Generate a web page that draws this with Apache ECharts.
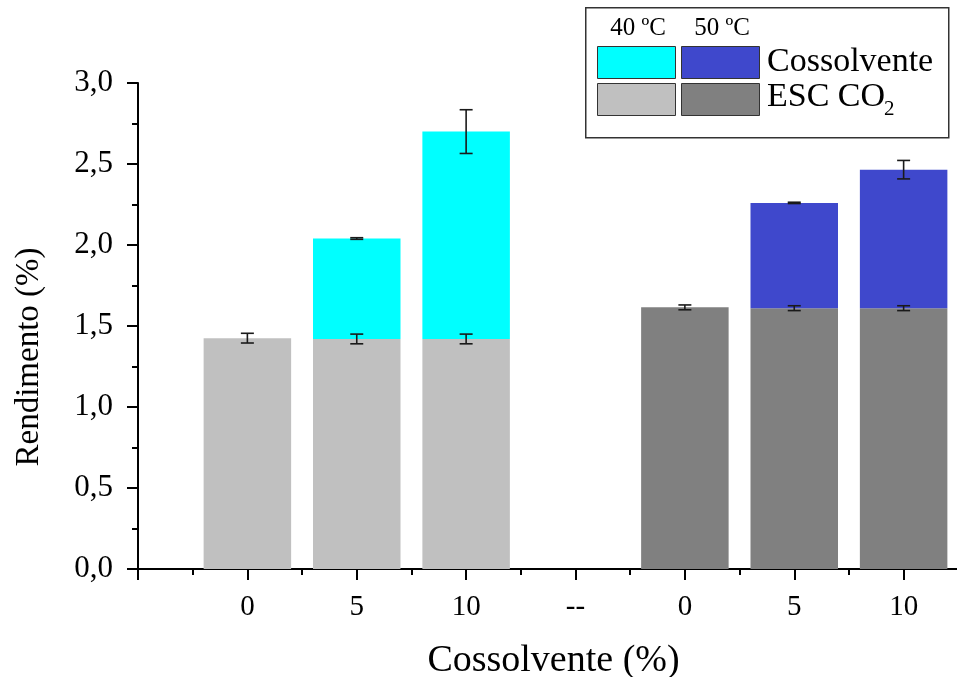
<!DOCTYPE html>
<html>
<head>
<meta charset="utf-8">
<script src="https://cdn.jsdelivr.net/npm/echarts@6/dist/echarts.min.js"></script>
<style>html,body{margin:0;padding:0;background:#fff}#c{width:957px;height:677px}</style>
</head>
<body>
<div id="c"></div>
<script>
// ---- data ----
const tickLabels = ['', '0', '5', '10', '--', '0', '5', '10'];
const xPos40 = [1, 2, 3];
const xPos50 = [5, 6, 7];
const esc40 = [1.425, 1.42, 1.42];
const esc40Err = [0.03, 0.03, 0.03];
const coss40 = [0, 0.62, 1.28];
const coss40Err = [0, 0.005, 0.135];
const esc50 = [1.615, 1.61, 1.61];
const esc50Err = [0.015, 0.015, 0.015];
const coss50 = [0, 0.65, 0.855];
const coss50Err = [0, 0.004, 0.057];

const FONT = 'Liberation Serif';
const BAR_W = 0.8;

function escData(xs, esc) { return xs.map((x, i) => [x, 0, esc[i]]); }
function cossData(xs, esc, coss) {
  return xs.map((x, i) => [x, esc[i], esc[i] + coss[i]]).filter((d, i) => coss[i] > 0);
}
function errData(xs, base, add, err) {
  return xs.map((x, i) => [x, base[i] + (add ? add[i] : 0), err[i]]).filter((d, i) => !add || add[i] > 0);
}

function barItem(params, api) {
  const x = api.value(0), y0 = api.value(1), y1 = api.value(2);
  const p0 = api.coord([x, y0]), p1 = api.coord([x, y1]);
  const w = api.size([BAR_W, 0])[0];
  return {
    type: 'rect',
    shape: { x: p0[0] - w / 2, y: p1[1], width: w, height: p0[1] - p1[1] },
    style: { fill: api.visual('color') }
  };
}
function errItem(params, api) {
  const x = api.value(0), c = api.value(1), e = api.value(2);
  const top = api.coord([x, c + e]), bot = api.coord([x, c - e]);
  const cap = 6.5;
  const st = { stroke: '#1a1a1a', lineWidth: 1.6 };
  return {
    type: 'group',
    children: [
      { type: 'line', shape: { x1: top[0], y1: top[1], x2: bot[0], y2: bot[1] }, style: st },
      { type: 'line', shape: { x1: top[0] - cap, y1: top[1], x2: top[0] + cap, y2: top[1] }, style: st },
      { type: 'line', shape: { x1: bot[0] - cap, y1: bot[1], x2: bot[0] + cap, y2: bot[1] }, style: st }
    ]
  };
}

const chart = echarts.init(document.getElementById('c'));
chart.setOption({
  backgroundColor: '#fff',
  animation: false,
  grid: { left: 138, width: 875, top: 83, height: 486, containLabel: false, outerBoundsMode: 'none' },
  xAxis: {
    type: 'value', min: 0, max: 8, interval: 1,
    name: 'Cossolvente (%)', nameLocation: 'middle', nameGap: 73,
    nameTextStyle: { fontFamily: FONT, fontSize: 38, color: '#000', padding: [0, 44, 0, 0] },
    axisLine: { show: true, onZero: false, lineStyle: { color: '#000', width: 2 } },
    axisTick: { show: true, inside: false, length: 11, lineStyle: { color: '#000', width: 2 } },
    minorTick: { show: true, splitNumber: 2, length: 6, lineStyle: { color: '#000', width: 2 } },
    splitLine: { show: false },
    axisLabel: {
      fontFamily: FONT, fontSize: 29, color: '#000', margin: 24,
      formatter: v => (Number.isInteger(v) && tickLabels[v] !== undefined) ? tickLabels[v] : ''
    }
  },
  yAxis: {
    type: 'value', min: 0, max: 3, interval: 0.5,
    name: 'Rendimento (%)', nameLocation: 'middle', nameGap: 92,
    nameTextStyle: { fontFamily: FONT, fontSize: 33, color: '#000', padding: [0, 62, 0, 0] },
    axisLine: { show: true, lineStyle: { color: '#000', width: 2 } },
    axisTick: { show: true, inside: false, length: 11, lineStyle: { color: '#000', width: 2 } },
    minorTick: { show: true, splitNumber: 2, length: 6, lineStyle: { color: '#000', width: 2 } },
    splitLine: { show: false },
    axisLabel: {
      fontFamily: FONT, fontSize: 31, color: '#000', margin: 25,
      formatter: v => v.toFixed(1).replace('.', ',')
    }
  },
  series: [
    { name: 'ESC CO2 40', type: 'custom', renderItem: barItem, itemStyle: { color: '#C0C0C0' },
      encode: { x: 0, y: [1, 2] }, data: escData(xPos40, esc40), z: 2 },
    { name: 'Cossolvente 40', type: 'custom', renderItem: barItem, itemStyle: { color: '#00FFFF' },
      encode: { x: 0, y: [1, 2] }, data: cossData(xPos40, esc40, coss40), z: 2 },
    { name: 'ESC CO2 50', type: 'custom', renderItem: barItem, itemStyle: { color: '#808080' },
      encode: { x: 0, y: [1, 2] }, data: escData(xPos50, esc50), z: 2 },
    { name: 'Cossolvente 50', type: 'custom', renderItem: barItem, itemStyle: { color: '#3F48CC' },
      encode: { x: 0, y: [1, 2] }, data: cossData(xPos50, esc50, coss50), z: 2 },
    { name: 'err esc40', type: 'custom', renderItem: errItem, encode: { x: 0, y: 1 },
      data: errData(xPos40, esc40, null, esc40Err), z: 5 },
    { name: 'err coss40', type: 'custom', renderItem: errItem, encode: { x: 0, y: 1 },
      data: errData(xPos40, esc40, coss40, coss40Err), z: 5 },
    { name: 'err esc50', type: 'custom', renderItem: errItem, encode: { x: 0, y: 1 },
      data: errData(xPos50, esc50, null, esc50Err), z: 5 },
    { name: 'err coss50', type: 'custom', renderItem: errItem, encode: { x: 0, y: 1 },
      data: errData(xPos50, esc50, coss50, coss50Err), z: 5 }
  ],
  graphic: [
    { type: 'rect', left: 585, top: 7, shape: { width: 363, height: 130 },
      style: { fill: '#fff', stroke: '#333', lineWidth: 1.5 }, z: 10 },
    { type: 'rect', left: 597, top: 46, shape: { width: 78, height: 32 },
      style: { fill: '#00FFFF', stroke: '#333', lineWidth: 1 }, z: 11 },
    { type: 'rect', left: 681, top: 46, shape: { width: 78, height: 32 },
      style: { fill: '#3F48CC', stroke: '#333', lineWidth: 1 }, z: 11 },
    { type: 'rect', left: 597, top: 83, shape: { width: 78, height: 32 },
      style: { fill: '#C0C0C0', stroke: '#333', lineWidth: 1 }, z: 11 },
    { type: 'rect', left: 681, top: 83, shape: { width: 78, height: 32 },
      style: { fill: '#808080', stroke: '#333', lineWidth: 1 }, z: 11 },
    { type: 'text', x: 638, y: 28, z: 11,
      style: { text: '40 ºC', font: '25px "Liberation Serif"', fill: '#000', align: 'center', verticalAlign: 'middle' } },
    { type: 'text', x: 722, y: 28, z: 11,
      style: { text: '50 ºC', font: '25px "Liberation Serif"', fill: '#000', align: 'center', verticalAlign: 'middle' } },
    { type: 'text', x: 767, y: 62, z: 11,
      style: { text: 'Cossolvente', font: '34px "Liberation Serif"', fill: '#000', align: 'left', verticalAlign: 'middle' } },
    { type: 'text', x: 767, y: 97, z: 11,
      style: { text: 'ESC CO', font: '34px "Liberation Serif"', fill: '#000', align: 'left', verticalAlign: 'middle' } },
    { type: 'text', x: 884, y: 109, z: 11,
      style: { text: '2', font: '21px "Liberation Serif"', fill: '#000', align: 'left', verticalAlign: 'middle' } }
  ]
});
</script>
</body>
</html>
